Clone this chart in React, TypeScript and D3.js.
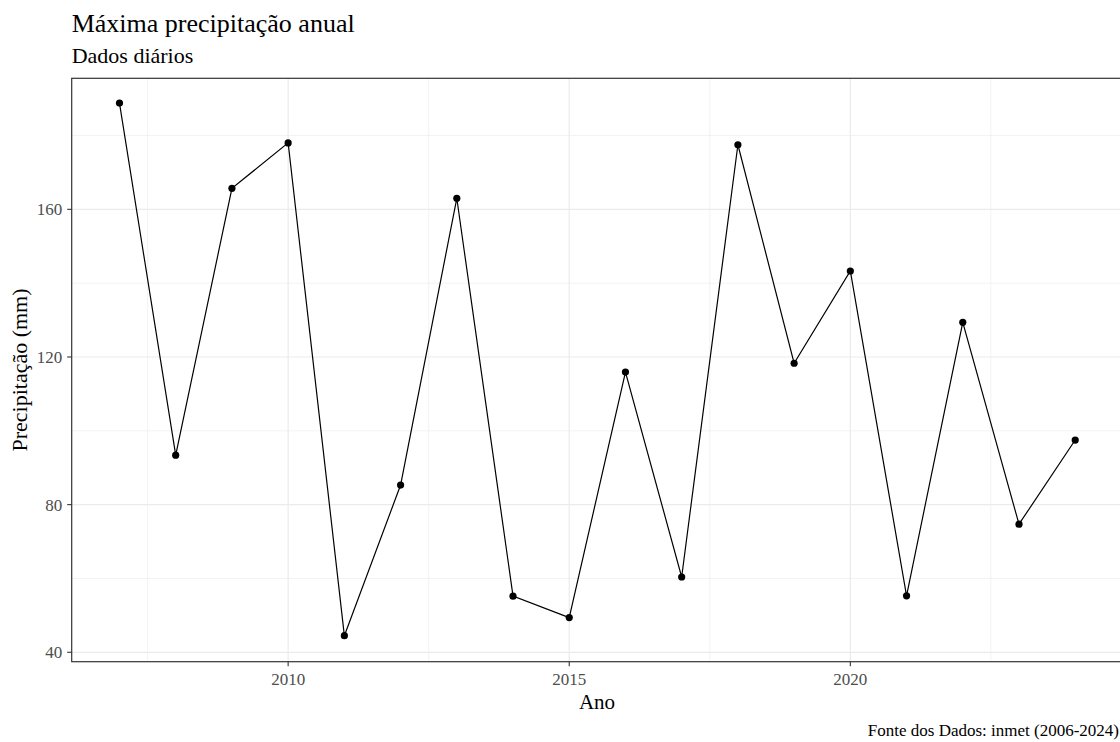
import React from "react";
import * as d3 from "d3";

const years = [2007, 2008, 2009, 2010, 2011, 2012, 2013, 2014, 2015, 2016, 2017, 2018, 2019, 2020, 2021, 2022, 2023, 2024];
const precip = [188.8, 93.4, 165.7, 178.0, 44.5, 85.3, 163.0, 55.2, 49.4, 115.9, 60.4, 177.5, 118.3, 143.3, 55.3, 129.4, 74.7, 97.5];
const xTicks = [2010, 2015, 2020];
const xMinor = [2007.5, 2012.5, 2017.5, 2022.5];
const yTicks = [40, 80, 120, 160];
const yMinor = [60, 100, 140, 180];

const W = 1120;
const H = 742;
const panel = { left: 71.7, right: 1123, top: 78.3, bottom: 661.7 };
const FONT = "'Liberation Serif', 'Times New Roman', serif";

export default function App() {
  const x = d3.scaleLinear().domain([2006.15, 2024.85]).range([panel.left, panel.right]);
  const y = d3.scaleLinear().domain([37.45, 195.5]).range([panel.bottom, panel.top]);
  const data = years.map((yr, i) => ({ yr, v: precip[i] }));
  const line = d3.line<{ yr: number; v: number }>().x((d) => x(d.yr)).y((d) => y(d.v));
  const pw = panel.right - panel.left;
  const ph = panel.bottom - panel.top;

  return (
    <svg width={W} height={H} style={{ position: "absolute", left: 0, top: 0, background: "#fff" }} fontFamily={FONT}>
      <rect x={0} y={0} width={W} height={H} fill="#fff" />
      <defs>
        <clipPath id="pc">
          <rect x={panel.left} y={panel.top} width={pw} height={ph} />
        </clipPath>
      </defs>
      <g clipPath="url(#pc)">
        {yMinor.map((t) => (
          <line key={"ym" + t} x1={panel.left} x2={panel.right} y1={y(t)} y2={y(t)} stroke="#EBEBEB" strokeWidth={0.6} />
        ))}
        {xMinor.map((t) => (
          <line key={"xm" + t} x1={x(t)} x2={x(t)} y1={panel.top} y2={panel.bottom} stroke="#EBEBEB" strokeWidth={0.6} />
        ))}
        {yTicks.map((t) => (
          <line key={"yM" + t} x1={panel.left} x2={panel.right} y1={y(t)} y2={y(t)} stroke="#EBEBEB" strokeWidth={1.2} />
        ))}
        {xTicks.map((t) => (
          <line key={"xM" + t} x1={x(t)} x2={x(t)} y1={panel.top} y2={panel.bottom} stroke="#EBEBEB" strokeWidth={1.2} />
        ))}
        <path d={line(data) || ""} fill="none" stroke="#000" strokeWidth={1.2} />
        {data.map((d) => (
          <circle key={d.yr} cx={x(d.yr)} cy={y(d.v)} r={3.6} fill="#000" />
        ))}
      </g>
      <rect x={panel.left} y={panel.top} width={pw} height={ph} fill="none" stroke="#333333" strokeWidth={1.2} />
      {yTicks.map((t) => (
        <g key={"yt" + t}>
          <line x1={panel.left - 4.5} x2={panel.left} y1={y(t)} y2={y(t)} stroke="#333333" strokeWidth={1.1} />
          <text x={panel.left - 9.5} y={y(t)} dy="0.35em" textAnchor="end" fontSize={17} fill="#4D4D4D">
            {t}
          </text>
        </g>
      ))}
      {xTicks.map((t) => (
        <g key={"xt" + t}>
          <line x1={x(t)} x2={x(t)} y1={panel.bottom} y2={panel.bottom + 4.5} stroke="#333333" strokeWidth={1.1} />
          <text x={x(t)} y={685} textAnchor="middle" fontSize={17} fill="#4D4D4D">
            {t}
          </text>
        </g>
      ))}
      <text x={597} y={709} textAnchor="middle" fontSize={21} fill="#000">
        Ano
      </text>
      <text transform={`translate(27, ${(panel.top + panel.bottom) / 2}) rotate(-90)`} textAnchor="middle" fontSize={22} fill="#000">
        Precipitação (mm)
      </text>
      <text x={panel.left} y={32} fontSize={26} fill="#000">
        Máxima precipitação anual
      </text>
      <text x={panel.left} y={63} fontSize={22} fill="#000">
        Dados diários
      </text>
      <text x={1119} y={736} textAnchor="end" fontSize={17} fill="#000">
        Fonte dos Dados: inmet (2006-2024)
      </text>
    </svg>
  );
}
